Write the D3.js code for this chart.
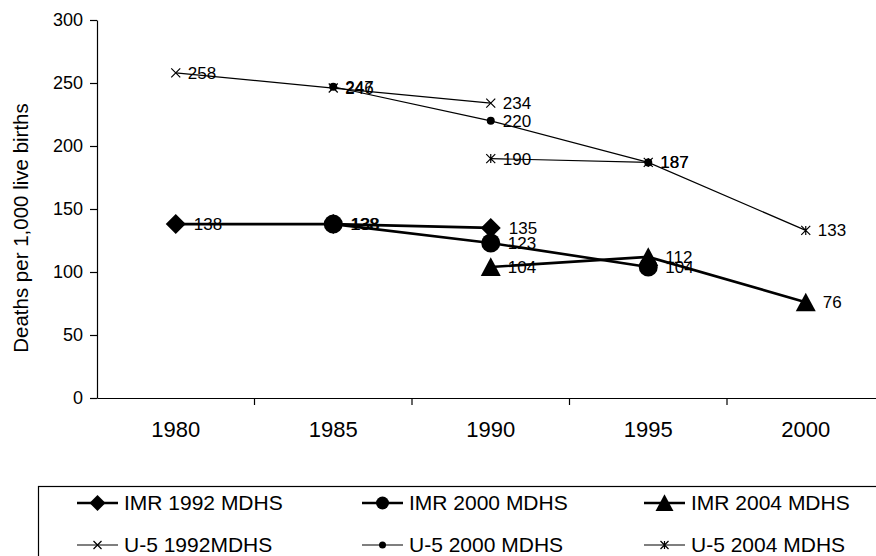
<!DOCTYPE html>
<html>
<head>
<meta charset="utf-8">
<script src="https://cdn.jsdelivr.net/npm/d3@7"></script>
<style>
  body { margin: 0; background: #fff; }
  text { font-family: Arial, "Liberation Sans", sans-serif; fill: #000; }
</style>
</head>
<body>
<svg id="chart" width="876" height="556"></svg>
<script>
// data
const years = ["1980", "1985", "1990", "1995", "2000"];
const y_ticks = [0, 50, 100, 150, 200, 250, 300];

const imr_1992 = [138, 138, 135, null, null];
const imr_2000 = [null, 138, 123, 104, null];
const imr_2004 = [null, null, 104, 112, 76];
const u5_1992 = [258, 246, 234, null, null];
const u5_2000 = [null, 247, 220, 187, null];
const u5_2004 = [null, null, 190, 187, 133];

const series_names = [
  "IMR 1992 MDHS", "IMR 2000 MDHS", "IMR 2004 MDHS",
  "U-5 1992MDHS", "U-5 2000 MDHS", "U-5 2004 MDHS"
];

// marker drawing, size is roughly the marker width in px
const markers = {
  diamond: (s) => `M0,${-s / 2}L${s / 2},0L0,${s / 2}L${-s / 2},0Z`,
  circle: (s) => `M${s / 2},0A${s / 2},${s / 2} 0 1,1 ${-s / 2},0A${s / 2},${s / 2} 0 1,1 ${s / 2},0Z`,
  triangle: (s) => `M0,${-s * 0.48}L${s / 2},${s * 0.45}L${-s / 2},${s * 0.45}Z`,
  cross: (s) => `M${-s / 2},${-s / 2}L${s / 2},${s / 2}M${-s / 2},${s / 2}L${s / 2},${-s / 2}`,
  star: (s) => `M${-s / 2},${-s / 2}L${s / 2},${s / 2}M${-s / 2},${s / 2}L${s / 2},${-s / 2}M0,${-s / 2}L0,${s / 2}`
};

const series = [
  { name: series_names[0], values: imr_1992, shape: "diamond", size: 20, lsize: 16, width: 2.6, filled: true, offset: 18 },
  { name: series_names[1], values: imr_2000, shape: "circle", size: 19, lsize: 13, width: 2.6, filled: true, offset: 17 },
  { name: series_names[2], values: imr_2004, shape: "triangle", size: 20, lsize: 18, width: 2.6, filled: true, offset: 17 },
  { name: series_names[3], values: u5_1992, shape: "cross", size: 9, lsize: 8, width: 1.2, filled: false, offset: 12 },
  { name: series_names[4], values: u5_2000, shape: "circle", size: 8, lsize: 7, width: 1.2, filled: true, offset: 12 },
  { name: series_names[5], values: u5_2004, shape: "star", size: 9, lsize: 8, width: 1.2, filled: false, offset: 12 }
];

const svg = d3.select("#chart");

const x = d3.scaleBand().domain(years).range([97, 884.5]).padding(0);
const y = d3.scaleLinear().domain([0, 300]).range([398, 20]);
const cx = (i) => x(years[i]) + x.bandwidth() / 2;

// y axis
const y_axis = svg.append("g")
  .attr("transform", "translate(97,0)")
  .call(d3.axisLeft(y).tickValues(y_ticks).tickSize(7).tickPadding(7).tickSizeOuter(0));
y_axis.select(".domain").attr("stroke", "#000").attr("stroke-width", 1.2);
y_axis.selectAll(".tick line").attr("stroke", "#000").attr("stroke-width", 1.2);
y_axis.selectAll("text").attr("font-size", 18).attr("font-family", "Arial, 'Liberation Sans', sans-serif");

// x axis: labels centred in bands, ticks at band edges
const x_axis = svg.append("g")
  .attr("transform", "translate(0,398)")
  .call(d3.axisBottom(x).tickSize(0).tickPadding(23).tickSizeOuter(0));
x_axis.select(".domain").attr("stroke", "#000").attr("stroke-width", 1.2);
x_axis.selectAll("text").attr("font-size", 22).attr("font-family", "Arial, 'Liberation Sans', sans-serif");
x_axis.selectAll(".edge")
  .data(years.slice(1))
  .join("line")
  .attr("class", "edge")
  .attr("x1", (d) => x(d))
  .attr("x2", (d) => x(d))
  .attr("y1", 0)
  .attr("y2", 7)
  .attr("stroke", "#000")
  .attr("stroke-width", 1.2);

// axis title
svg.append("text")
  .attr("transform", "translate(28,228) rotate(-90)")
  .attr("text-anchor", "middle")
  .attr("font-size", 20.5)
  .text("Deaths per 1,000 live births");

// lines and markers
const line = d3.line()
  .defined((d) => d != null)
  .x((d, i) => cx(i))
  .y((d) => y(d));

series.forEach((s) => {
  const g = svg.append("g");
  g.append("path")
    .datum(s.values)
    .attr("d", line)
    .attr("fill", "none")
    .attr("stroke", "#000")
    .attr("stroke-width", s.width);

  const pts = s.values.map((v, i) => ({ v, i })).filter((d) => d.v != null);

  g.selectAll("path.mark")
    .data(pts)
    .join("path")
    .attr("class", "mark")
    .attr("transform", (d) => `translate(${cx(d.i)},${y(d.v)})`)
    .attr("d", markers[s.shape](s.size))
    .attr("fill", s.filled ? "#000" : "none")
    .attr("stroke", "#000")
    .attr("stroke-width", s.filled ? 0 : 1.2);

  g.selectAll("text")
    .data(pts)
    .join("text")
    .attr("x", (d) => cx(d.i) + s.offset)
    .attr("y", (d) => y(d.v))
    .attr("dy", "0.35em")
    .attr("font-size", 17)
    .text((d) => d.v);
});

// legend
const legend = svg.append("g");
legend.append("rect")
  .attr("x", 38.5)
  .attr("y", 486.5)
  .attr("width", 900)
  .attr("height", 120)
  .attr("fill", "none")
  .attr("stroke", "#000")
  .attr("stroke-width", 1.2);

const col_x = [77, 362, 644];
const row_y = [503, 545];

series.forEach((s, k) => {
  const lx = col_x[k % 3];
  const ly = row_y[Math.floor(k / 3)];
  const item = legend.append("g").attr("transform", `translate(${lx},${ly})`);
  item.append("line")
    .attr("x1", 0).attr("x2", 41).attr("y1", 0).attr("y2", 0)
    .attr("stroke", "#000").attr("stroke-width", s.width);
  item.append("path")
    .attr("transform", "translate(20.5,0)")
    .attr("d", markers[s.shape](s.lsize))
    .attr("fill", s.filled ? "#000" : "none")
    .attr("stroke", "#000")
    .attr("stroke-width", s.filled ? 0 : 1.2);
  item.append("text")
    .attr("x", 47)
    .attr("dy", "0.35em")
    .attr("font-size", 21)
    .text(s.name);
});
</script>
</body>
</html>
